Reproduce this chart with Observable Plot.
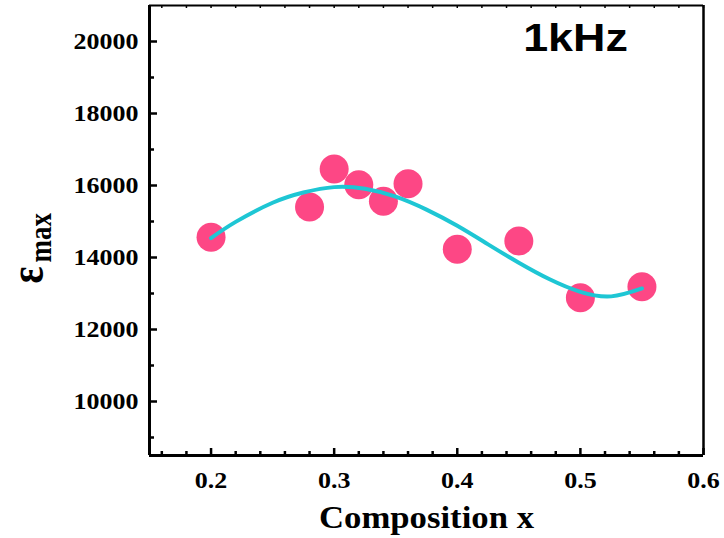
<!DOCTYPE html>
<html>
<head>
<meta charset="utf-8">
<script src="https://cdn.jsdelivr.net/npm/d3@7"></script>
<script src="https://cdn.jsdelivr.net/npm/@observablehq/plot@0.6"></script>
<style>
  html, body { margin: 0; padding: 0; background: #fff; }
  #chart { width: 724px; height: 538px; }
</style>
</head>
<body>
<div id="chart"></div>
<script>
// Measured data points
const compositionX = [0.2, 0.28, 0.3, 0.32, 0.34, 0.36, 0.4, 0.45, 0.5, 0.55];
const epsMax = [14560, 15400, 16460, 16020, 15560, 16050, 14230, 14460, 12880, 13190];

// Fitted curve
const fitX = [0.2, 0.22, 0.25, 0.275, 0.3, 0.325, 0.35, 0.375, 0.4, 0.425, 0.45, 0.475, 0.5, 0.525, 0.55];
const fitY = [14540, 14990, 15520, 15805, 15955, 15910, 15690, 15330, 14880, 14365, 13855, 13395, 13046, 12920, 13140];

// Ticks
const xMajor = [0.2, 0.3, 0.4, 0.5, 0.6];
const xMinor = [0.16, 0.18, 0.22, 0.24, 0.26, 0.28, 0.32, 0.34, 0.36, 0.38, 0.42, 0.44, 0.46, 0.48, 0.52, 0.54, 0.56, 0.58];
const yMajor = [10000, 12000, 14000, 16000, 18000, 20000];
const yMinor = [9000, 11000, 13000, 15000, 17000, 19000];

const labelText = "1kHz";
const xTitle = "Composition x";

const points = compositionX.map((x, i) => ({x, y: epsMax[i]}));
const fit = fitX.map((x, i) => ({x, y: fitY[i]}));

const W = 724, H = 538;
const mL = 149, mR = 21, mT = 5, mB = 83;
const innerW = W - mL - mR, innerH = H - mT - mB;
const serif = "'Liberation Serif', 'Times New Roman', serif";
const sans = "'Liberation Sans', Arial, sans-serif";

const chart = Plot.plot({
  width: W, height: H,
  marginLeft: mL, marginRight: mR, marginTop: mT, marginBottom: mB,
  style: {fontFamily: serif, color: "#000", background: "#fff", overflow: "visible"},
  x: {domain: [0.15, 0.6]},
  y: {domain: [8500, 21000]},
  marks: [
    Plot.dot(points, {x: "x", y: "y", r: 14.5, fill: "#fd4785", stroke: "none"}),
    Plot.line(fit, {x: "x", y: "y", stroke: "#1ec6d4", strokeWidth: 4, curve: "natural"}),
    // frame
    Plot.ruleX([0.15], {stroke: "#000", strokeWidth: 3}),
    Plot.ruleY([8500], {stroke: "#000", strokeWidth: 3}),
    Plot.ruleX([0.6], {stroke: "#000", strokeWidth: 2.5}),
    Plot.ruleY([21000], {stroke: "#000", strokeWidth: 2}),
    // inward ticks left
    Plot.tickY(yMajor, {y: d => d, insetRight: innerW - 8, stroke: "#000", strokeWidth: 2.5}),
    Plot.tickY(yMinor, {y: d => d, insetRight: innerW - 5, stroke: "#000", strokeWidth: 2.5}),
    // inward ticks bottom
    Plot.tickX(xMajor, {x: d => d, insetTop: innerH - 7, stroke: "#000", strokeWidth: 2.5}),
    Plot.tickX(xMinor, {x: d => d, insetTop: innerH - 4, stroke: "#000", strokeWidth: 2.5}),
    // small ticks top
    Plot.tickX(xMajor.concat(xMinor), {x: d => d, insetBottom: innerH - 3, stroke: "#000", strokeWidth: 1.5}),
    Plot.axisY({ticks: yMajor, tickSize: 0, tickPadding: 11, tickFormat: d => String(d), fontSize: 23, fontWeight: "bold", fontFamily: serif, label: null}),
    Plot.axisX({ticks: xMajor, tickSize: 0, tickPadding: 16, tickFormat: d => d.toFixed(1), fontSize: 23, fontWeight: "bold", fontFamily: serif, label: null}),
    Plot.text([xTitle], {frameAnchor: "bottom", dy: 72, lineAnchor: "bottom", fontSize: 31, fontWeight: "bold", fontFamily: serif, fill: "#000", className: "xt"}),
    Plot.text(["ε"], {frameAnchor: "left", dx: -107, dy: 53, rotate: -90, textAnchor: "start", lineAnchor: "bottom", fontSize: 40, fontWeight: "bold", fontFamily: serif, fill: "#000", className: "rot"}),
    Plot.text(["max"], {frameAnchor: "left", dx: -99, dy: 32, rotate: -90, textAnchor: "start", lineAnchor: "bottom", fontSize: 27, fontWeight: "bold", fontFamily: serif, fill: "#000", className: "rot"}),
    Plot.text([labelText], {frameAnchor: "top", dx: 149, dy: 45, lineAnchor: "bottom", fontSize: 38, fontWeight: "bold", fontFamily: sans, fill: "#000", className: "lbl"})
  ]
});

// horizontal stretch of the text to mimic the reference glyph proportions
chart.querySelectorAll("text").forEach(t => {
  const tr = t.getAttribute("transform") || "";
  const g = t.closest("g");
  const cls = g ? (g.getAttribute("class") || "") : "";
  let s;
  if (/rot/.test(cls)) s = " scale(1,1.2)";
  else if (/xt/.test(cls)) s = " scale(1.12,1)";
  else if (/lbl/.test(cls)) s = " scale(1.18,1)";
  else s = " scale(1.13,1)";
  t.setAttribute("transform", tr + s);
});

document.getElementById("chart").appendChild(chart);
</script>
</body>
</html>
